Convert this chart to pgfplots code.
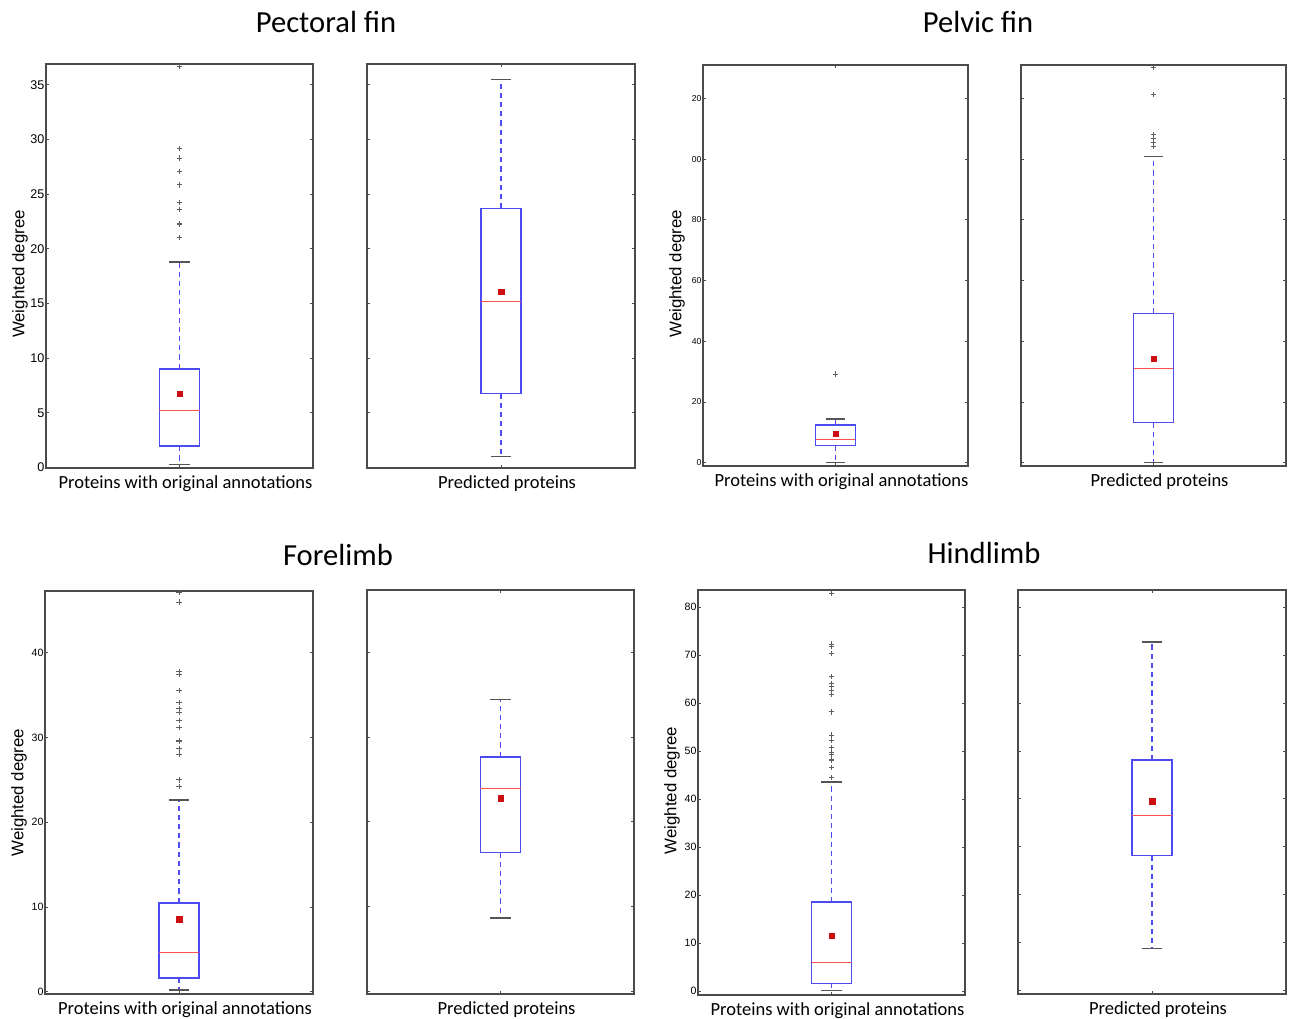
\documentclass[border=0pt]{standalone}
\usepackage{pgfplots}
\pgfplotsset{compat=1.18}
\usepgfplotslibrary{statistics}
\usepackage{fontspec}
\setmainfont{Carlito}
\newfontfamily\helv{Liberation Sans}
\definecolor{boxblue}{RGB}{75,75,240}
\definecolor{medred}{RGB}{250,80,80}
\definecolor{meanred}{RGB}{205,15,20}
\definecolor{capgray}{RGB}{85,85,85}
\definecolor{outgray}{RGB}{95,95,95}
\definecolor{framegray}{RGB}{75,75,75}

\pgfplotsset{
  boxplot/draw direction=y,
  boxplot/every box/.style={draw=boxblue, line width=0.75pt},
  boxplot/every median/.style={draw=medred, line width=0.65pt},
  boxplot/draw/lower whisker/.code={%
    \draw[boxblue, line width=0.75pt, dash pattern=on 2.6pt off 2pt]
      (boxplot box cs:\pgfplotsboxplotvalue{lower quartile},0.5) --
      (boxplot box cs:\pgfplotsboxplotvalue{lower whisker},0.5);
    \draw[capgray, line width=0.8pt]
      (boxplot whisker cs:\pgfplotsboxplotvalue{lower whisker},0) --
      (boxplot whisker cs:\pgfplotsboxplotvalue{lower whisker},1);
  },
  boxplot/draw/upper whisker/.code={%
    \draw[boxblue, line width=0.75pt, dash pattern=on 2.6pt off 2pt]
      (boxplot box cs:\pgfplotsboxplotvalue{upper quartile},0.5) --
      (boxplot box cs:\pgfplotsboxplotvalue{upper whisker},0.5);
    \draw[capgray, line width=0.8pt]
      (boxplot whisker cs:\pgfplotsboxplotvalue{upper whisker},0) --
      (boxplot whisker cs:\pgfplotsboxplotvalue{upper whisker},1);
  },
  boxplot/draw/average/.code={%
    \node[rectangle, fill=meanred, draw=meanred, line width=0.2pt, inner sep=0pt, minimum size=2.7pt]
      at (boxplot box cs:\pgfplotsboxplotvalue{average},0.5) {};
  },
  panel/.style={
    scale only axis, clip=false, anchor=north west,
    xmin=0, xmax=2, xtick={1}, xticklabels={},
    axis line style={draw=framegray, line width=0.75pt},
    tick style={draw=framegray, line width=0.4pt},
    major tick length=1.6pt, tick align=inside,
    xtick pos=both, ytick pos=both,
    /pgf/number format/assume math mode=true,
    yticklabel style={inner sep=0.6pt},
    every axis x label/.style={at={(axis description cs:0.5,0)}, anchor=center, yshift=-8pt, xshift=3pt, font=\fontsize{9.25}{10}\selectfont},
    every axis y label/.style={at={(axis description cs:0,0.48)}, anchor=center, xshift=-13pt, rotate=90, font=\helv\fontsize{8.4}{9}\selectfont},
  },
  bp/.style={boxplot prepared={draw position=1, box extend=0.3, whisker extend=0.15, #1},
    draw=boxblue, mark=+, mark size=1.3pt, mark options={draw=outgray, solid, line width=0.45pt}},
}

\begin{document}
\begin{tikzpicture}
\useasboundingbox (0,0) rectangle (645pt,-509pt);

% titles
\node[font=\fontsize{15.3}{17}\selectfont] at (163pt,-11pt) {Pectoral fin};
\node[font=\fontsize{15.3}{17}\selectfont] at (489pt,-11pt) {Pelvic fin};
\node[font=\fontsize{15.3}{17}\selectfont] at (169pt,-277.5pt) {Forelimb};
\node[font=\fontsize{15.3}{17}\selectfont] at (492pt,-276.5pt) {Hindlimb};

% ---------- Pectoral fin ----------
\begin{axis}[panel, at={(23pt,-32pt)}, width=133.5pt, height=202pt,
  ymin=-0.05, ymax=36.9, ytick={0,5,...,35},
  yticklabel style={font=\helv\fontsize{6.3}{7}\selectfont},
  ylabel={Weighted degree}, xlabel={Proteins with original annotations}]
\addplot[bp={lower whisker=0.27, lower quartile=1.95, median=5.24, upper quartile=9.02, upper whisker=18.77, average=6.76}]
  coordinates {(1,36.7) (1,29.16) (1,28.3) (1,27.05) (1,25.84) (1,24.2) (1,23.58) (1,22.3) (1,22.2) (1,21.05)};
\end{axis}
\begin{axis}[panel, at={(183.5pt,-32pt)}, width=134pt, height=202pt,
  ymin=-0.05, ymax=36.9, ytick={0,5,...,35}, yticklabels={},
  xlabel={Predicted proteins}]
\addplot[bp={lower whisker=1.0, lower quartile=6.75, median=15.2, upper quartile=23.7, upper whisker=35.5, average=16.1}]
  coordinates {};
\end{axis}

% ---------- Pelvic fin ----------
\begin{axis}[panel, at={(351.5pt,-32.5pt)}, width=132.5pt, height=200.5pt,
  ymin=-1.1, ymax=131, ytick={0,20,40,60,80,100,120}, yticklabels={0,20,40,60,80,00,20},
  yticklabel style={font=\helv\fontsize{4.3}{5}\selectfont},
  ylabel={Weighted degree}, xlabel={Proteins with original annotations}]
\addplot[bp={lower whisker=0, lower quartile=5.7, median=7.6, upper quartile=12.4, upper whisker=14.4, average=9.56}]
  coordinates {(1,29.2)};
\end{axis}
\begin{axis}[panel, at={(510.5pt,-32.5pt)}, width=132.5pt, height=200.5pt,
  ymin=-1.1, ymax=131, ytick={0,20,40,60,80,100,120}, yticklabels={},
  xlabel={Predicted proteins}]
\addplot[bp={lower whisker=0, lower quartile=13.2, median=31.0, upper quartile=49.1, upper whisker=100.9, average=34.2}]
  coordinates {(1,130.1) (1,121.4) (1,108.1) (1,106.8) (1,105.4) (1,104.3)};
\end{axis}

% ---------- Forelimb ----------
\begin{axis}[panel, at={(22.5pt,-295.5pt)}, width=134pt, height=201.5pt,
  ymin=-0.27, ymax=47.3, ytick={0,10,...,40},
  yticklabel style={font=\helv\fontsize{5.3}{6}\selectfont},
  every axis y label/.append style={at={(axis description cs:0,0.5)}},
  ylabel={Weighted degree}, xlabel={Proteins with original annotations}]
\addplot[bp={lower whisker=0.2, lower quartile=1.65, median=4.6, upper quartile=10.5, upper whisker=22.6, average=8.54}]
  coordinates {(1,47.1) (1,46.0) (1,37.8) (1,37.5) (1,35.6) (1,34.1) (1,33.4) (1,33.0) (1,32.0) (1,31.2) (1,29.7) (1,29.5) (1,28.7) (1,28.05) (1,25.0) (1,24.2)};
\end{axis}
\begin{axis}[panel, at={(183.5pt,-295pt)}, width=133.5pt, height=202pt,
  ymin=-0.27, ymax=47.3, ytick={0,10,...,40}, yticklabels={},
  xlabel={Predicted proteins}]
\addplot[bp={lower whisker=8.66, lower quartile=16.4, median=23.9, upper quartile=27.65, upper whisker=34.4, average=22.8}]
  coordinates {};
\end{axis}

% ---------- Hindlimb ----------
\begin{axis}[panel, at={(349pt,-295pt)}, width=133.5pt, height=202.5pt,
  ymin=-0.77, ymax=83.6, ytick={0,10,...,80},
  yticklabel style={font=\helv\fontsize{5.3}{6}\selectfont},
  every axis y label/.append style={at={(axis description cs:0,0.505)}},
  ylabel={Weighted degree}, xlabel={Proteins with original annotations}]
\addplot[bp={lower whisker=0.15, lower quartile=1.67, median=6.05, upper quartile=18.6, upper whisker=43.6, average=11.6}]
  coordinates {(1,82.9) (1,72.35) (1,71.9) (1,70.4) (1,65.6) (1,64.1) (1,63.5) (1,62.6) (1,61.9) (1,58.2) (1,53.4) (1,52.3) (1,50.7) (1,49.7) (1,49.4) (1,48.4) (1,48.0) (1,46.7) (1,44.5)};
\end{axis}
\begin{axis}[panel, at={(509pt,-295pt)}, width=134pt, height=202pt,
  ymin=-0.77, ymax=83.6, ytick={0,10,...,80}, yticklabels={},
  xlabel={Predicted proteins}]
\addplot[bp={lower whisker=8.7, lower quartile=28.2, median=36.5, upper quartile=48.1, upper whisker=72.7, average=39.5}]
  coordinates {};
\end{axis}
\end{tikzpicture}
\end{document}
